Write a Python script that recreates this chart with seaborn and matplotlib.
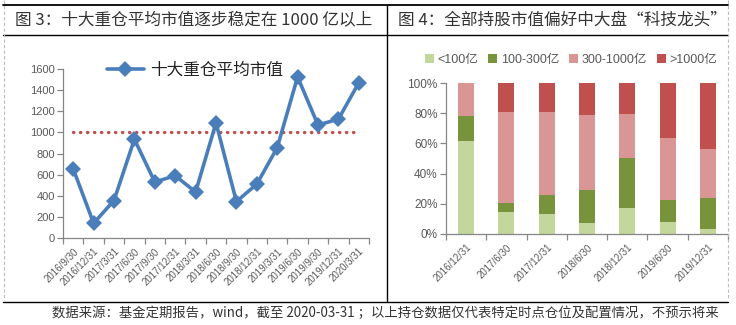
import numpy as np
import pandas as pd
import matplotlib
matplotlib.use("Agg")
import matplotlib.pyplot as plt
import seaborn as sns
from matplotlib.lines import Line2D
from matplotlib.patches import Patch
from matplotlib.ticker import FixedLocator, FuncFormatter

# ---- data: average market value of top-10 holdings (亿元) ----
report_dates = ["2016/9/30", "2016/12/31", "2017/3/31", "2017/6/30", "2017/9/30",
                "2017/12/31", "2018/3/31", "2018/6/30", "2018/9/30", "2018/12/31",
                "2019/3/31", "2019/6/30", "2019/9/30", "2019/12/31", "2020/3/31"]
avg_cap = [655, 140, 355, 935, 530, 590, 435, 1090, 345, 510, 855, 1525, 1070, 1125, 1470]
threshold = 1000

# ---- data: market-cap mix of all holdings (%) ----
periods = ["2016/12/31", "2017/6/30", "2017/12/31", "2018/6/30",
           "2018/12/31", "2019/6/30", "2019/12/31"]
cap_lt100 = [61.7, 14.6, 13.3, 7.3, 17.3, 8.0, 3.3]
cap_100_300 = [16.6, 6.0, 12.6, 21.9, 33.1, 14.6, 20.6]
cap_300_1000 = [21.7, 60.4, 55.1, 49.8, 29.2, 41.1, 32.5]
cap_gt1000 = [0.0, 19.0, 19.0, 21.0, 20.4, 36.3, 43.6]
bucket_names = ["<100亿", "100-300亿", "300-1000亿", ">1000亿"]
bucket_colors = ["#C3D69B", "#77933C", "#D99694", "#C0504D"]

sns.set_theme(style="white")
plt.rcParams["font.family"] = ["Liberation Sans", "Noto Sans CJK SC", "DejaVu Sans"]
plt.rcParams["axes.unicode_minus"] = False

W, H = 736, 325
fig = plt.figure(figsize=(W / 100, H / 100), dpi=100)
fig.patch.set_facecolor("white")


def box(x0, y0, x1, y1):
    """pixel box (top-left origin) -> figure fraction rect"""
    return [x0 / W, 1 - y1 / H, (x1 - x0) / W, (y1 - y0) / H]


def hline(x0, x1, y, **kw):
    fig.add_artist(Line2D([x0 / W, x1 / W], [1 - y / H, 1 - y / H],
                          transform=fig.transFigure, **kw))


def vline(x, y0, y1, **kw):
    fig.add_artist(Line2D([x / W, x / W], [1 - y0 / H, 1 - y1 / H],
                          transform=fig.transFigure, **kw))


AX_GREY = "#868686"
TXT_GREY = "#595959"
CJK = ["Noto Sans CJK SC", "DejaVu Sans"]

# ---- frame ----
hline(3, 728, 5, color="black", lw=1.3)
hline(3, 728, 35, color="black", lw=1.0)
hline(3, 728, 302, color="black", lw=1.0)
vline(387, 5, 302, color="black", lw=1.0)
vline(4, 0, 300, color="#BBBBBB", lw=0.8, ls=(0, (3, 2)))
vline(728, 0, 300, color="#BBBBBB", lw=0.8, ls=(0, (3, 2)))

fig.text(15 / W, 1 - 20 / H, "图 3：十大重仓平均市值逐步稳定在 1000 亿以上",
         family=CJK, fontsize=12, color="#333333", va="center", ha="left")
fig.text(398 / W, 1 - 20 / H, "图 4：全部持股市值偏好中大盘“科技龙头”",
         family=CJK, fontsize=12, color="#333333", va="center", ha="left")
fig.text(385 / W, 1 - 313 / H,
         "数据来源：基金定期报告，wind，截至 2020-03-31 ；以上持仓数据仅代表特定时点仓位及配置情况，不预示将来",
         family=CJK, fontsize=9.6, color="#333333", va="center", ha="center")


def style_axis(ax, n):
    for s in ["top", "right"]:
        ax.spines[s].set_visible(False)
    for s in ["left", "bottom"]:
        ax.spines[s].set_color(AX_GREY)
        ax.spines[s].set_linewidth(0.9)
    ax.set_xlim(-0.5, n - 0.5)
    ax.xaxis.set_major_locator(FixedLocator(np.arange(-0.5, n, 1.0)))
    ax.xaxis.set_minor_locator(FixedLocator(np.arange(n)))
    ax.tick_params(axis="x", which="major", length=4, width=0.9, color=AX_GREY,
                   direction="out", labelbottom=False, bottom=True)
    ax.tick_params(axis="x", which="minor", length=0, pad=6, labelsize=7,
                   labelcolor=TXT_GREY, bottom=True, labelbottom=True)
    ax.tick_params(axis="y", length=4, width=0.9, color=AX_GREY, direction="out",
                   left=True, pad=2, labelcolor=TXT_GREY)
    ax.grid(False)
    ax.set_xlabel("")
    ax.set_ylabel("")


# ---- left: average market value line ----
ax1 = fig.add_axes(box(63, 69, 369, 238))
line_df = pd.DataFrame({"pos": np.arange(len(report_dates)), "cap": avg_cap})
sns.lineplot(data=line_df, x="pos", y="cap", ax=ax1, color="#4A7EBB", lw=2.6,
             marker="D", markersize=8, markeredgewidth=0, label="十大重仓平均市值",
             zorder=3)
ax1.hlines(threshold, line_df["pos"].iloc[0], line_df["pos"].iloc[-1],
           colors="#C0504D", linewidth=2.4, linestyles=(0, (0.1, 2.0)),
           capstyle="round", zorder=2)
ax1.set_ylim(0, 1600)
ax1.set_yticks(np.arange(0, 1601, 200))
style_axis(ax1, len(report_dates))
ax1.tick_params(axis="y", labelsize=8)
ax1.set_xticks(np.arange(len(report_dates)), report_dates, minor=True,
               rotation=45, ha="right", rotation_mode="anchor")
leg1 = ax1.legend(loc="center", bbox_to_anchor=(195 / W, 1 - 70 / H),
                  bbox_transform=fig.transFigure, frameon=False,
                  handlelength=2.2, handletextpad=0.4,
                  prop={"family": CJK, "size": 12})
for t in leg1.get_texts():
    t.set_color("#222222")

# ---- right: stacked share of market-cap buckets ----
ax2 = fig.add_axes(box(446, 83, 728, 234))
parts = [cap_lt100, cap_100_300, cap_300_1000, cap_gt1000]
cum = np.cumsum(np.array(parts), axis=0)
mix_df = pd.DataFrame({"period": periods})
for i, name in enumerate(bucket_names):
    mix_df[name] = cum[i]
for i in reversed(range(len(bucket_names))):
    sns.barplot(data=mix_df, x="period", y=bucket_names[i], ax=ax2,
                color=bucket_colors[i], width=0.4, saturation=1, linewidth=0)
ax2.set_ylim(0, 100)
ax2.set_yticks(np.arange(0, 101, 20))
ax2.yaxis.set_major_formatter(FuncFormatter(lambda v, p: f"{v:.0f}%"))
style_axis(ax2, len(periods))
ax2.tick_params(axis="y", labelsize=8.5)
ax2.set_xticks(np.arange(len(periods)), periods, minor=True,
               rotation=45, ha="right", rotation_mode="anchor")

handles = [Patch(facecolor=c, edgecolor="none") for c in bucket_colors]
leg2 = fig.legend(handles, bucket_names, loc="center",
                  bbox_to_anchor=(571 / W, 1 - 60 / H), ncol=4, frameon=False,
                  handlelength=0.7, handleheight=0.7, handletextpad=0.3,
                  columnspacing=0.8, prop={"size": 9})
for t in leg2.get_texts():
    t.set_color(TXT_GREY)

fig.savefig("out.png", dpi=100, facecolor="white")
